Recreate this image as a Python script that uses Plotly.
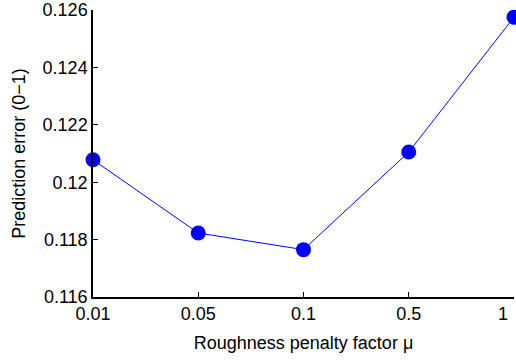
import plotly.graph_objects as go

# Roughness penalty factor values and the resulting prediction error
mu_labels = ["0.01", "0.05", "0.1", "0.5", "1"]
pred_error = [0.12078, 0.11823, 0.11765, 0.12105, 0.12575]

y_ticks = [0.116, 0.118, 0.120, 0.122, 0.124, 0.126]
y_tick_text = ["0.116", "0.118", "0.12", "0.122", "0.124", "0.126"]

font = dict(family="Liberation Sans, Arial, Helvetica, sans-serif", size=18, color="black")

x_pos = list(range(len(mu_labels)))
# the last tick sits at the right page edge: its label is placed as an
# annotation anchored just left of the tick so it stays on the page
x_tick_text = mu_labels[:-1] + [""]

fig = go.Figure(
    go.Scatter(
        x=x_pos,
        y=pred_error,
        mode="lines+markers",
        line=dict(color="#0000ff", width=1),
        marker=dict(color="#0000ff", size=15),
        cliponaxis=False,
    )
)

fig.add_annotation(
    x=x_pos[-1], xref="x", y=0, yref="paper",
    text=mu_labels[-1], showarrow=False, font=font,
    xanchor="right", yanchor="top", xshift=-4, yshift=-5,
)

fig.update_layout(
    width=516,
    height=360,
    margin=dict(l=93, r=2, t=10, b=63),
    paper_bgcolor="white",
    plot_bgcolor="white",
    font=font,
    showlegend=False,
    xaxis=dict(
        range=[0, len(mu_labels) - 1],
        tickvals=x_pos,
        ticktext=x_tick_text,
        automargin=False,
        showgrid=False,
        zeroline=False,
        showline=True,
        linecolor="black",
        linewidth=1.5,
        ticks="inside",
        ticklen=5,
        tickcolor="black",
        tickwidth=1,
        tickfont=font,
        title=dict(text="Roughness penalty factor μ", font=font, standoff=13),
    ),
    yaxis=dict(
        range=[0.116, 0.126],
        tickvals=y_ticks,
        ticktext=y_tick_text,
        ticklabeloverflow="allow",
        automargin=False,
        showgrid=False,
        zeroline=False,
        showline=True,
        linecolor="black",
        linewidth=1.5,
        ticks="inside",
        ticklen=5,
        tickcolor="black",
        tickwidth=1,
        tickfont=font,
        title=dict(text="Prediction error (0−1)", font=font, standoff=12),
    ),
)

fig.write_html("out.html")
